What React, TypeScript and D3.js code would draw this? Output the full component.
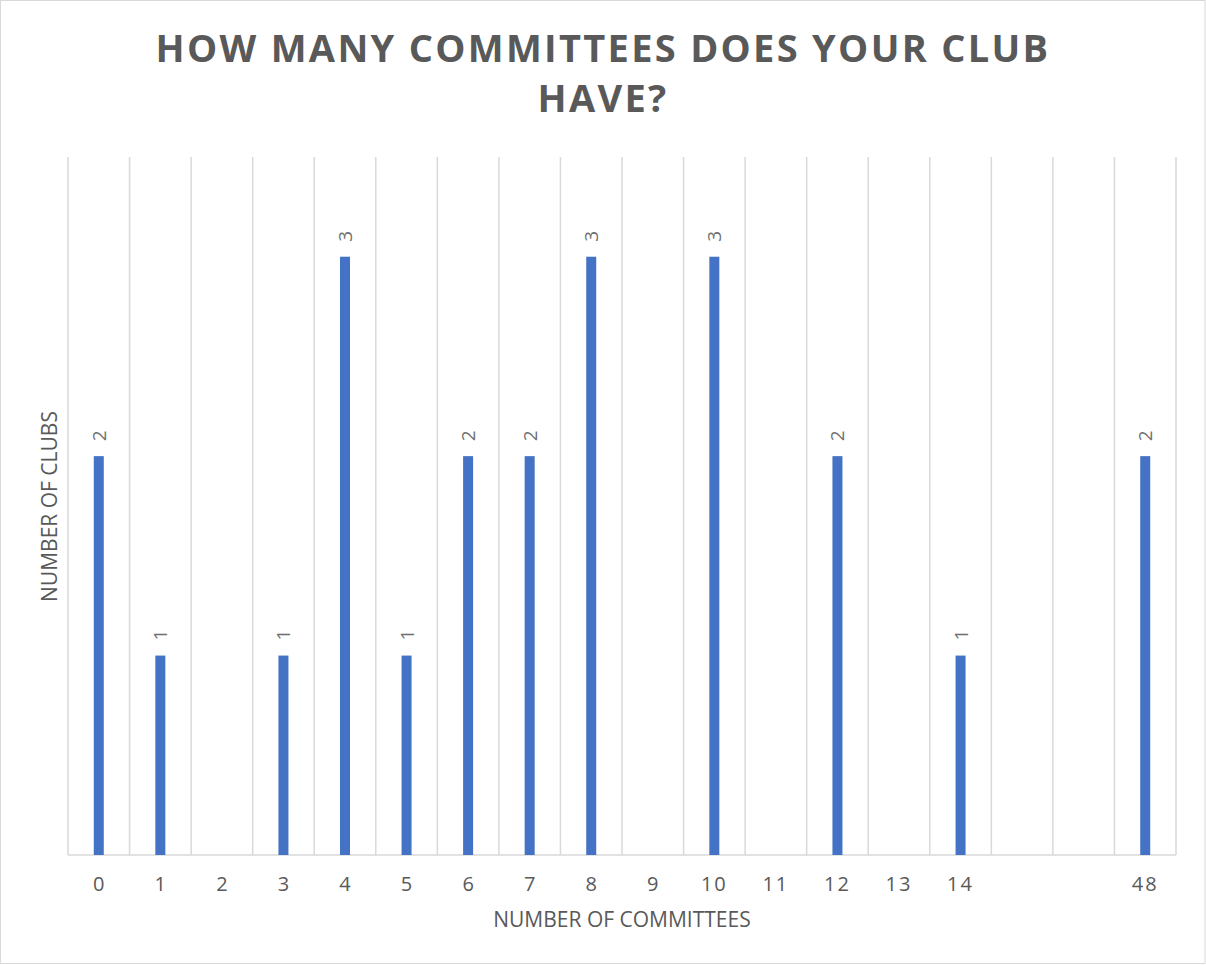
import React from "react";
import * as d3 from "d3";

const categories: string[] = ["0", "1", "2", "3", "4", "5", "6", "7", "8", "9", "10", "11", "12", "13", "14", " ", "  ", "48"];
const values: number[] = [2, 1, 0, 1, 3, 1, 2, 2, 3, 0, 3, 0, 2, 0, 1, 0, 0, 2];
const titleLines: string[] = ["HOW MANY COMMITTEES DOES YOUR CLUB", "HAVE?"];
const xTitle = "NUMBER OF COMMITTEES";
const yTitle = "NUMBER OF CLUBS";

const W = 1206;
const H = 965;
const left = 68;
const right = 1176;
const top = 157;
const bottom = 855;
const FONT = "'Open Sans', 'Segoe UI', sans-serif";
const TEXT = "#595959";
const LABEL = "#6f6f6f";
const GRID = "#d9d9d9";
const BAR = "#4472c4";

export default function App() {
  const x = d3.scaleBand<string>().domain(categories).range([left, right]).paddingInner(0).paddingOuter(0);
  const y = d3.scaleLinear().domain([0, 3.5]).range([bottom, top]);
  const bw = 10;
  const bounds = categories.map((_, i) => left + i * x.step()).concat([right]);

  return (
    <svg width={W} height={H} style={{ position: "absolute", left: 0, top: 0, background: "#fff" }}>
      <rect x={0.5} y={0.5} width={W - 1.5} height={H - 2} fill="#fff" stroke={GRID} strokeWidth={1} />
      {titleLines.map((t, i) => (
        <text key={i} x={W / 2} y={62 + i * 50} textAnchor="middle" fontFamily={FONT} fontWeight={700}
          fontSize={38} letterSpacing={2.3} fill={TEXT}>{t}</text>
      ))}
      {bounds.map((bx, i) => (
        <line key={i} x1={bx} x2={bx} y1={top} y2={bottom} stroke={GRID} strokeWidth={1.5} />
      ))}
      <line x1={left} x2={right} y1={bottom} y2={bottom} stroke={GRID} strokeWidth={1.5} />
      {categories.map((c, i) => {
        const cx = (x(c) as number) + x.bandwidth() / 2;
        const v = values[i];
        return (
          <g key={i}>
            {v > 0 && <rect x={cx - bw / 2} y={y(v)} width={bw} height={bottom - y(v)} fill={BAR} />}
            {v > 0 && (
              <text transform={`translate(${cx + 7},${y(v) - 15}) rotate(-90)`} fontFamily={FONT} fontSize={19}
                fill={LABEL}>{v}</text>
            )}
            <text x={cx} y={891} textAnchor="middle" fontFamily={FONT} fontSize={20} fill={TEXT}
              letterSpacing={c.length > 1 ? 2 : 0}>{c.trim()}</text>
          </g>
        );
      })}
      <text x={622} y={927} textAnchor="middle" fontFamily={FONT} fontSize={21} fill={TEXT}>{xTitle}</text>
      <text transform={`translate(57,${(413 + 600) / 2}) rotate(-90)`} textAnchor="middle" fontFamily={FONT}
        fontSize={21} fill={TEXT}>{yTitle}</text>
    </svg>
  );
}
